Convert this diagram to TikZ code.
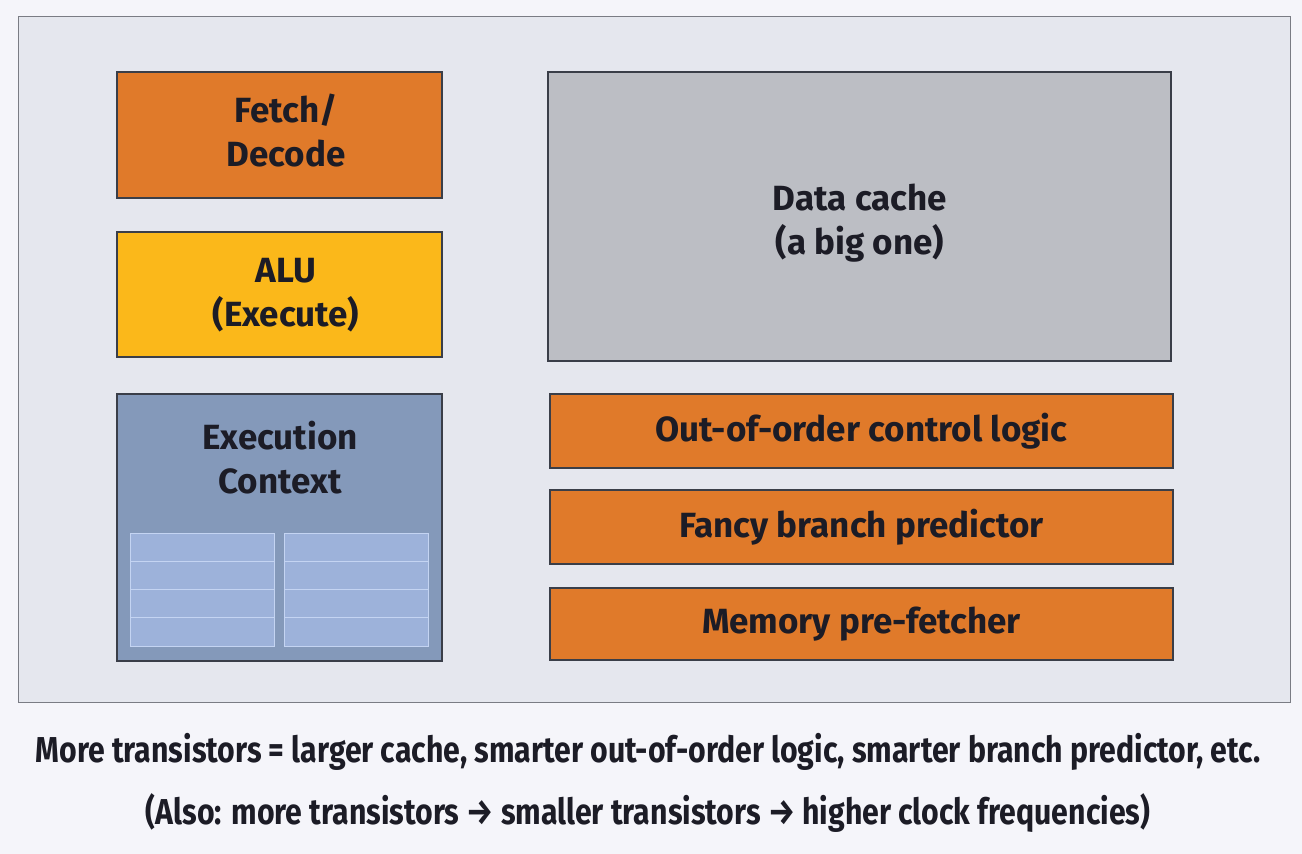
\documentclass[tikz,border=0pt]{standalone}
\usepackage{fontspec}
\setmainfont{Fira Sans}
\newfontfamily\notefont[FakeStretch=0.84]{Fira Sans}
\definecolor{pagebg}{HTML}{F5F5FA}
\definecolor{panelbg}{HTML}{E5E7EE}
\definecolor{paneledge}{HTML}{7A7C84}
\definecolor{edge}{HTML}{3A3E48}
\definecolor{ink}{HTML}{1C1C26}
\definecolor{orangebox}{HTML}{E07A2A}
\definecolor{yellowbox}{HTML}{FBB81A}
\definecolor{greybox}{HTML}{BCBEC4}
\definecolor{ctxbox}{HTML}{8499BA}
\definecolor{regfill}{HTML}{9DB2DA}
\definecolor{regline}{HTML}{C4D4F2}
\tikzset{
  labelfont/.style={font=\fontsize{35}{44}\selectfont\bfseries},
  blk/.style={draw=edge, line width=1.3pt, inner sep=0pt, outer sep=0pt,
    anchor=north west, align=center, text=ink, labelfont},
  blktext/.style={align=center, text=ink, inner sep=0pt, labelfont},
  regblock/.style={draw=regline, fill=regfill, line width=1pt, inner sep=0pt,
    outer sep=0pt, anchor=north west, minimum width=144pt, minimum height=113pt},
  note/.style={text=ink, inner sep=0pt, font=\notefont\fontsize{36}{40}\selectfont\bfseries}
}
\begin{document}
\begin{tikzpicture}[x=1pt,y=-1pt]
  \path[use as bounding box, fill=pagebg] (0,0) rectangle (1302,854);
  % chip outline
  \node[draw=paneledge, fill=panelbg, line width=1pt, inner sep=0pt, anchor=north west,
        minimum width=1272pt, minimum height=686pt] (panel) at (18,16) {};
  % left column
  \node[blk, fill=orangebox, minimum width=325pt, minimum height=126pt] (fetch) at (117,72) {};
  \node[blktext] (fetchlabel) at (286,131) {Fetch/\\Decode};
  \node[blk, fill=yellowbox, minimum width=325pt, minimum height=125pt] (alu) at (117,232) {};
  \node[blktext] (alulabel) at (286,295) {ALU\\(Execute)};
  \node[blk, fill=ctxbox, minimum width=325pt, minimum height=267pt] (ctx) at (117,394) {};
  \node[blktext] (ctxlabel) at (280,458) {Execution\\Context};
  % register file inside the execution context
  \node[regblock] (regA) at (130,533) {};
  \node[regblock] (regB) at (284,533) {};
  \foreach \k in {1,2,3} {
    \draw[regline, line width=1pt] ([yshift=-28.25*\k pt]regA.north west) -- ([yshift=-28.25*\k pt]regA.north east);
    \draw[regline, line width=1pt] ([yshift=-28.25*\k pt]regB.north west) -- ([yshift=-28.25*\k pt]regB.north east);
  }
  % right column
  \node[blk, fill=greybox, minimum width=623pt, minimum height=289pt] (cache) at (548,72) {};
  \node[blktext] (cachelabel) at (860,223) {Data cache\\(a big one)};
  \node[blk, fill=orangebox, minimum width=623pt, minimum height=74pt] (ooo) at (550,394) {Out-of-order control logic};
  \node[blk, fill=orangebox, minimum width=623pt, minimum height=74pt] (branch) at (550,490) {Fancy branch predictor};
  \node[blk, fill=orangebox, minimum width=623pt, minimum height=72pt] (prefetch) at (550,588) {Memory pre-fetcher};
  % notes below the chip
  \node[note] (note1) at (648,752) {More transistors = larger cache, smarter out-of-order logic, smarter branch predictor, etc.};
  \node[note] (note2) at (648,813) {(Also: more transistors → smaller transistors → higher clock frequencies)};
\end{tikzpicture}
\end{document}
